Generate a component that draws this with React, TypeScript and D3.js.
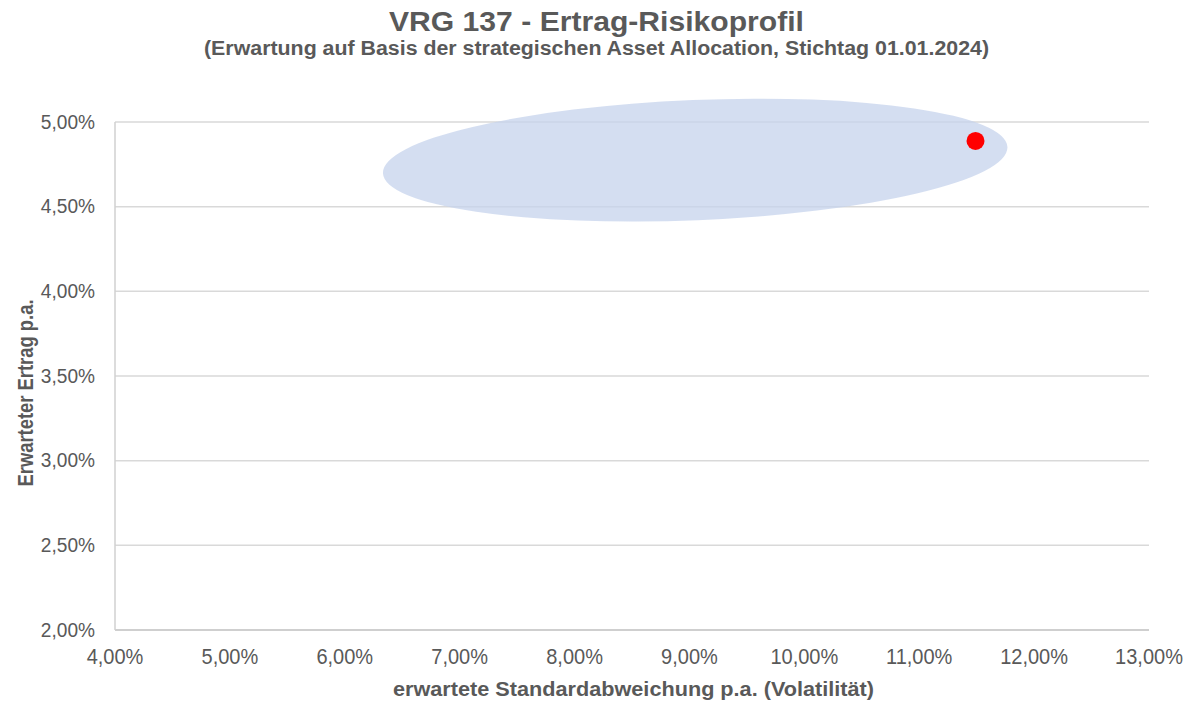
import * as React from 'react'
import { scaleLinear, format } from 'd3'

const xTicks = [4, 5, 6, 7, 8, 9, 10, 11, 12, 13]
const yTicks = [2, 2.5, 3, 3.5, 4, 4.5, 5]

// expected volatility / expected return of the fund (in %)
const fundRisk = [11.49]
const fundReturn = [4.888]

// range ellipse: centre, radii (in %) and tilt (degrees)
const ellipseCenter = [9.05, 4.775]
const ellipseRadius = [2.72, 0.355]
const ellipseTilt = -2.4

const title = 'VRG 137 - Ertrag-Risikoprofil'
const subtitle = '(Erwartung auf Basis der strategischen Asset Allocation, Stichtag 01.01.2024)'
const xTitle = 'erwartete Standardabweichung p.a. (Volatilität)'
const yTitle = 'Erwarteter Ertrag p.a.'

const width = 1193
const height = 701
const margin = { top: 122, right: 44, bottom: 71, left: 115 }

const textColor = '#595959'
const font = "'Liberation Sans', Arial, sans-serif"
// the original uses a narrow face, so squeeze the glyphs a bit
const squeeze = 0.91

const pct = (v: number) => format('.2f')(v).replace('.', ',') + '%'

function App() {
  const x = scaleLinear().domain([4, 13]).range([margin.left, width - margin.right])
  const y = scaleLinear().domain([2, 5]).range([height - margin.bottom, margin.top])

  const cx = x(ellipseCenter[0])
  const cy = y(ellipseCenter[1])
  const rx = x(ellipseCenter[0] + ellipseRadius[0]) - cx
  const ry = cy - y(ellipseCenter[1] + ellipseRadius[1])

  return (
    <svg
      width={width}
      height={height}
      style={{ position: 'absolute', left: 0, top: 0, background: '#fff' }}
      fontFamily={font}
    >
      <text x={width / 2} y={31} textAnchor="middle" fontSize={28} fontWeight="bold" fill={textColor} textLength={415} lengthAdjust="spacingAndGlyphs">
        {title}
      </text>
      <text x={width / 2} y={55} textAnchor="middle" fontSize={20} fontWeight="bold" fill={textColor} textLength={785} lengthAdjust="spacingAndGlyphs">
        {subtitle}
      </text>

      {yTicks.map((t) => (
        <line key={'g' + t} x1={x(4)} x2={x(13)} y1={y(t)} y2={y(t)} stroke={t === 2 ? '#bfbfbf' : '#d9d9d9'} strokeWidth={1.5} />
      ))}
      <line x1={x(4)} x2={x(4)} y1={y(2)} y2={y(5)} stroke="#d0d0d0" strokeWidth={1.5} />

      <ellipse
        cx={cx}
        cy={cy}
        rx={rx}
        ry={ry}
        fill="#c5d3ec"
        fillOpacity={0.75}
        transform={`rotate(${ellipseTilt} ${cx} ${cy})`}
      />

      {fundRisk.map((r, i) => (
        <circle key={i} cx={x(r)} cy={y(fundReturn[i])} r={9} fill="#ff0000" />
      ))}

      {yTicks.map((t) => (
        <text
          key={'y' + t}
          transform={`translate(${x(4) - 20}, ${y(t) - 1}) scale(${squeeze}, 1)`}
          dy="0.36em"
          textAnchor="end"
          fontSize={21}
          fill={textColor}
        >
          {pct(t)}
        </text>
      ))}
      {xTicks.map((t) => (
        <text
          key={'x' + t}
          transform={`translate(${x(t)}, ${y(2) + 26}) scale(${squeeze}, 1)`}
          dy="0.36em"
          textAnchor="middle"
          fontSize={22}
          fill={textColor}
        >
          {pct(t)}
        </text>
      ))}

      <text x={393} y={696} fontSize={21} fontWeight="bold" fill={textColor} textLength={481} lengthAdjust="spacingAndGlyphs">
        {xTitle}
      </text>
      <text
        transform={`translate(33, 393) rotate(-90)`}
        textAnchor="middle"
        fontSize={22}
        fontWeight="bold"
        fill={textColor}
        textLength={187}
        lengthAdjust="spacingAndGlyphs"
      >
        {yTitle}
      </text>
    </svg>
  )
}

export default App
